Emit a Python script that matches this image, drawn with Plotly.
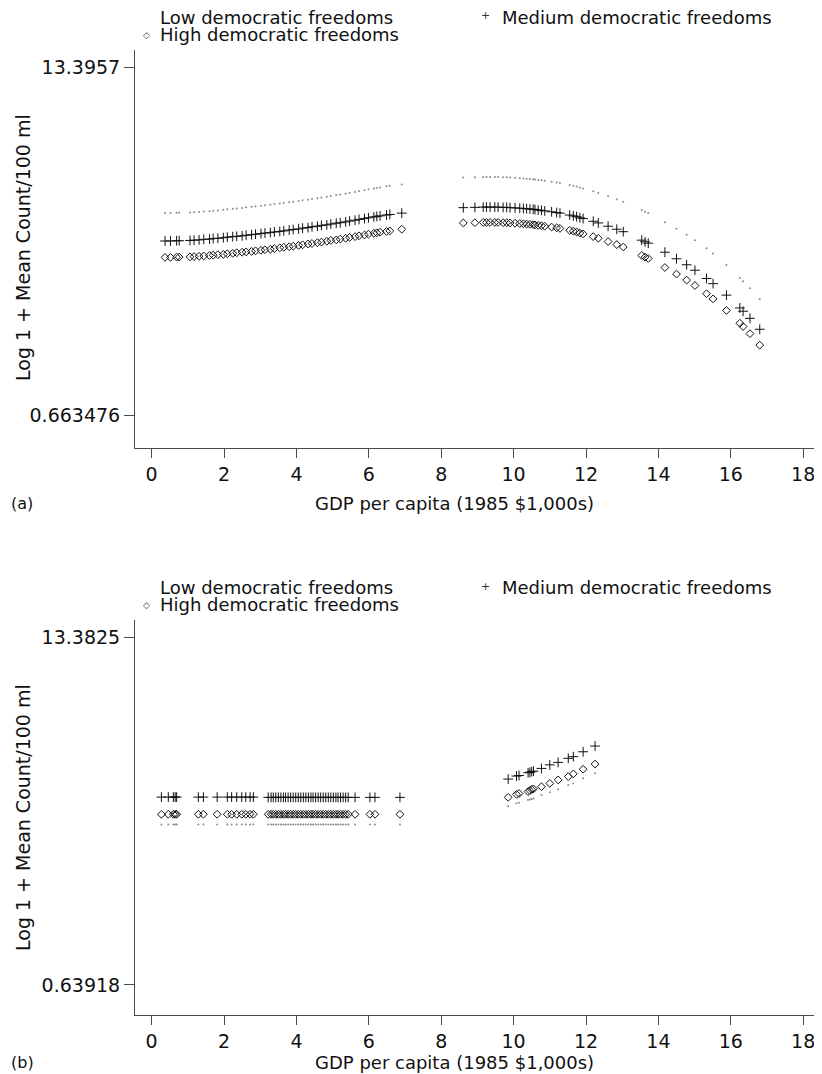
import plotly.graph_objects as go

# ---------------- data ----------------
# Panel (a)
gdp_a = [0.37, 0.52, 0.69, 0.76, 1.06, 1.17, 1.31, 1.44, 1.60, 1.70, 1.83, 1.98, 2.09, 2.24, 2.35, 2.50,
         2.61, 2.76, 2.87, 3.02, 3.13, 3.28, 3.39, 3.54, 3.65, 3.80, 3.91, 4.06, 4.17, 4.32, 4.43, 4.58,
         4.69, 4.84, 4.95, 5.10, 5.21, 5.36, 5.47, 5.62, 5.73, 5.88, 5.99, 6.14, 6.22, 6.31, 6.49, 6.58, 6.91,
         8.61, 8.93, 9.16, 9.25, 9.35, 9.48, 9.57, 9.71, 9.81, 9.90, 10.04, 10.17, 10.27, 10.36, 10.45, 10.54,
         10.59, 10.68, 10.77, 10.86, 11.05, 11.19, 11.28, 11.55, 11.65, 11.74, 11.83, 11.92, 12.20, 12.34,
         12.61, 12.85, 13.03, 13.54, 13.63, 13.72, 14.18, 14.50, 14.78, 15.01, 15.33, 15.51, 15.88, 16.25,
         16.34, 16.53, 16.80]
low_a = [8.05, 8.05, 8.06, 8.06, 8.07, 8.08, 8.09, 8.11, 8.12, 8.14, 8.15, 8.17, 8.19, 8.21, 8.22, 8.24,
         8.26, 8.28, 8.30, 8.32, 8.34, 8.36, 8.38, 8.40, 8.42, 8.45, 8.47, 8.49, 8.52, 8.54, 8.57, 8.59,
         8.62, 8.65, 8.68, 8.71, 8.73, 8.76, 8.79, 8.82, 8.86, 8.89, 8.92, 8.95, 8.97, 8.99, 9.03, 9.05, 9.10,
         9.35, 9.36, 9.37, 9.37, 9.37, 9.37, 9.37, 9.36, 9.36, 9.35, 9.34, 9.33, 9.32, 9.31, 9.30, 9.29,
         9.28, 9.26, 9.25, 9.23, 9.20, 9.17, 9.15, 9.08, 9.05, 9.02, 8.98, 8.95, 8.85, 8.79,
         8.67, 8.56, 8.47, 8.16, 8.10, 8.05, 7.72, 7.48, 7.26, 7.06, 6.76, 6.57, 6.15, 5.68,
         5.56, 5.30, 4.90]
medium_a = [7.03, 7.03, 7.04, 7.04, 7.05, 7.06, 7.07, 7.09, 7.10, 7.12, 7.13, 7.15, 7.17, 7.19, 7.20, 7.22,
            7.24, 7.26, 7.28, 7.30, 7.32, 7.34, 7.36, 7.38, 7.40, 7.43, 7.45, 7.47, 7.50, 7.52, 7.55, 7.57,
            7.60, 7.62, 7.65, 7.68, 7.70, 7.73, 7.76, 7.79, 7.82, 7.85, 7.88, 7.91, 7.93, 7.95, 7.98, 8.00, 8.05,
            8.25, 8.26, 8.27, 8.27, 8.27, 8.27, 8.27, 8.26, 8.26, 8.25, 8.24, 8.23, 8.22, 8.21, 8.20, 8.19,
            8.18, 8.16, 8.15, 8.13, 8.10, 8.07, 8.05, 7.98, 7.95, 7.92, 7.88, 7.85, 7.75, 7.69,
            7.57, 7.46, 7.37, 7.06, 7.00, 6.95, 6.62, 6.38, 6.16, 5.96, 5.66, 5.47, 5.05, 4.58,
            4.46, 4.20, 3.80]
high_a = [6.43, 6.43, 6.44, 6.44, 6.45, 6.46, 6.47, 6.48, 6.50, 6.51, 6.53, 6.54, 6.56, 6.58, 6.60, 6.62,
          6.63, 6.65, 6.67, 6.69, 6.71, 6.73, 6.75, 6.78, 6.80, 6.82, 6.84, 6.87, 6.89, 6.92, 6.94, 6.97,
          6.99, 7.02, 7.05, 7.07, 7.10, 7.13, 7.16, 7.19, 7.22, 7.25, 7.28, 7.31, 7.33, 7.35, 7.38, 7.40, 7.46,
          7.69, 7.70, 7.71, 7.71, 7.71, 7.71, 7.71, 7.70, 7.70, 7.69, 7.68, 7.67, 7.66, 7.65, 7.64, 7.63,
          7.62, 7.60, 7.59, 7.57, 7.54, 7.51, 7.49, 7.42, 7.39, 7.36, 7.32, 7.29, 7.19, 7.13,
          7.01, 6.90, 6.81, 6.50, 6.44, 6.39, 6.06, 5.82, 5.60, 5.40, 5.10, 4.91, 4.49, 4.02,
          3.90, 3.64, 3.22]

# Panel (b)
gdp_b = [0.27, 0.46, 0.60, 0.65, 0.69, 1.29, 1.43, 1.81, 2.09, 2.21, 2.35, 2.49, 2.60, 2.72, 2.81,
         3.22, 3.30, 3.36, 3.43, 3.50, 3.57, 3.64, 3.70, 3.77, 3.84, 3.91, 3.98, 4.05, 4.12, 4.19, 4.26,
         4.33, 4.40, 4.46, 4.53, 4.60, 4.67, 4.74, 4.81, 4.88, 4.95, 5.02, 5.09, 5.15, 5.22, 5.29, 5.36,
         5.43, 5.62, 6.03, 6.17, 6.86,
         9.85, 10.08, 10.15, 10.40, 10.45, 10.50, 10.55, 10.77, 11.00, 11.23, 11.51, 11.65, 11.92, 12.25]
low_b = [6.52, 6.52, 6.52, 6.52, 6.52, 6.52, 6.52, 6.52, 6.52, 6.52, 6.52, 6.52, 6.52, 6.52, 6.52,
         6.52, 6.52, 6.52, 6.52, 6.52, 6.52, 6.52, 6.52, 6.52, 6.52, 6.52, 6.52, 6.52, 6.52, 6.52, 6.52,
         6.52, 6.52, 6.52, 6.52, 6.52, 6.52, 6.52, 6.52, 6.52, 6.52, 6.52, 6.52, 6.52, 6.52, 6.52, 6.52,
         6.52, 6.52, 6.52, 6.52, 6.52,
         7.18, 7.29, 7.31, 7.41, 7.43, 7.45, 7.47, 7.60, 7.70, 7.81, 7.96, 8.02, 8.21, 8.39]
medium_b = [7.52, 7.52, 7.52, 7.52, 7.52, 7.52, 7.52, 7.52, 7.52, 7.52, 7.52, 7.52, 7.52, 7.52, 7.52,
            7.51, 7.51, 7.51, 7.51, 7.51, 7.51, 7.51, 7.51, 7.51, 7.51, 7.51, 7.51, 7.51, 7.51, 7.51, 7.51,
            7.51, 7.51, 7.51, 7.51, 7.51, 7.51, 7.51, 7.51, 7.51, 7.51, 7.51, 7.51, 7.51, 7.51, 7.51, 7.51,
            7.51, 7.51, 7.51, 7.51, 7.51,
            8.18, 8.29, 8.31, 8.41, 8.43, 8.45, 8.47, 8.57, 8.70, 8.79, 8.94, 9.00, 9.18, 9.39]
high_b = [6.89, 6.89, 6.89, 6.89, 6.89, 6.89, 6.89, 6.89, 6.89, 6.89, 6.89, 6.89, 6.89, 6.89, 6.89,
          6.89, 6.89, 6.89, 6.89, 6.89, 6.89, 6.89, 6.89, 6.89, 6.89, 6.89, 6.89, 6.89, 6.89, 6.89, 6.89,
          6.89, 6.89, 6.89, 6.89, 6.89, 6.89, 6.89, 6.89, 6.89, 6.89, 6.89, 6.89, 6.89, 6.89, 6.89, 6.89,
          6.89, 6.89, 6.89, 6.89, 6.89,
          7.51, 7.62, 7.65, 7.72, 7.76, 7.80, 7.82, 7.90, 8.02, 8.15, 8.27, 8.37, 8.54, 8.73]

x_ticks = [0, 2, 4, 6, 8, 10, 12, 14, 16, 18]
y_ticks_a = [0.663476, 13.3957]
y_tick_labels_a = ["0.663476", "13.3957"]
y_ticks_b = [0.63918, 13.3825]
y_tick_labels_b = ["0.63918", "13.3825"]

series_names = ["Low democratic freedoms", "Medium democratic freedoms", "High democratic freedoms"]
x_title = "GDP per capita (1985 $1,000s)"
y_title = "Log 1 + Mean Count/100 ml"

# ---------------- figure ----------------
# the page body has an 8px default margin, so the figure is made 8px smaller
OFF = 8
W, H = 822 - OFF, 1074 - OFF
FONT = "DejaVu Sans"
FS = 19
LFS = 18
AX = "#4a4a4a"

fig = go.Figure()

def add_panel(gdp, low, med, high, xa, ya):
    fig.add_trace(go.Scatter(x=gdp, y=low, mode="markers", name=series_names[0], xaxis=xa, yaxis=ya,
                             marker=dict(symbol="circle", size=2, color="#8a8a8a"), showlegend=False))
    fig.add_trace(go.Scatter(x=gdp, y=med, mode="markers", name=series_names[1], xaxis=xa, yaxis=ya,
                             marker=dict(symbol="cross-thin-open", size=7, color="#111111",
                                         line=dict(width=1, color="#111111")), showlegend=False))
    fig.add_trace(go.Scatter(x=gdp, y=high, mode="markers", name=series_names[2], xaxis=xa, yaxis=ya,
                             marker=dict(symbol="diamond-open", size=6, color="#111111",
                                         line=dict(width=1, color="#111111")), showlegend=False))

add_panel(gdp_a, low_a, medium_a, high_a, "x", "y")
add_panel(gdp_b, low_b, medium_b, high_b, "x2", "y2")

def py(p):
    return 1 - (p - OFF) / H

def px(p):
    return (p - OFF) / W

xaxis_common = dict(range=[-0.46, 18.52], tickvals=x_ticks, ticks="outside", ticklen=9, tickcolor=AX,
                    showline=True, linecolor=AX, linewidth=1, showgrid=False, zeroline=False,
                    tickfont=dict(family=FONT, size=FS, color="#111"))
yaxis_common = dict(ticks="outside", ticklen=10, tickcolor=AX, showline=True, linecolor=AX, linewidth=1,
                    showgrid=False, zeroline=False, tickfont=dict(family=FONT, size=FS, color="#111"))

fig.update_layout(
    width=W, height=H,
    margin=dict(l=0, r=0, t=0, b=0),
    paper_bgcolor="white", plot_bgcolor="white",
    xaxis=dict(domain=[px(135), 1.0], anchor="y", **xaxis_common),
    yaxis=dict(domain=[py(447.7), py(50)], anchor="x", range=[-0.533, 14.018],
               tickvals=y_ticks_a, ticktext=y_tick_labels_a, **yaxis_common),
    xaxis2=dict(domain=[px(135), 1.0], anchor="y2", **xaxis_common),
    yaxis2=dict(domain=[py(1015), py(620)], anchor="x2", range=[-0.46, 14.005],
                tickvals=y_ticks_b, ticktext=y_tick_labels_b, **yaxis_common),
    showlegend=False,
)

ann = []
def text(x, y, s, size=FS, anchor="left", angle=0, color="#111"):
    ann.append(dict(x=px(x), y=py(y), xref="paper", yref="paper", text=s, showarrow=False,
                    xanchor=anchor, yanchor="middle", textangle=angle,
                    font=dict(family=FONT, size=size, color=color)))

for off, lab, ty in [(0, "(a)", 503), (570, "(b)", 1062)]:
    # legend block
    text(158, 17 + off, series_names[0], size=LFS)
    text(485, 16 + off, "+", size=11, anchor="center", color="#333")
    text(500, 17 + off, series_names[1], size=LFS)
    text(146, 35 + off, "◇", size=9, anchor="center", color="#333")
    text(158, 34 + off, series_names[2], size=LFS)
    # axis titles
    text(23, 248 + off, y_title, angle=-90, anchor="center")
    text(455, ty, x_title, size=18, anchor="center")
    text(9, ty, lab, size=16)

fig.update_layout(annotations=ann)
fig.write_html("out.html")
